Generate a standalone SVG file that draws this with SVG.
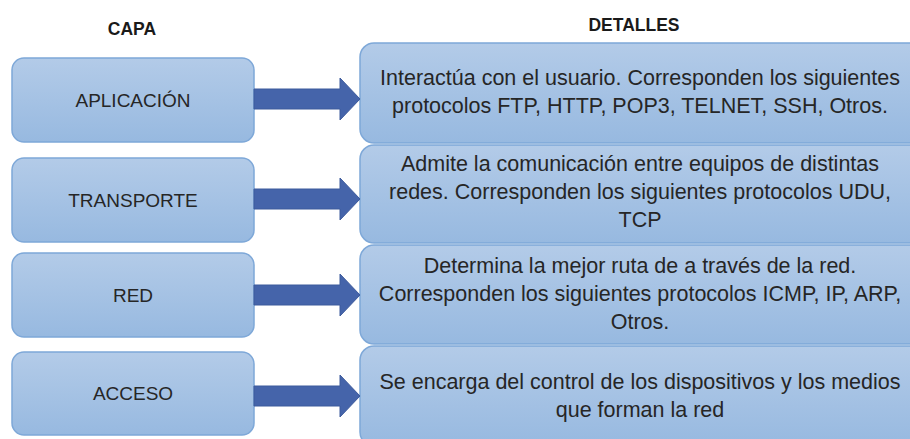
<svg xmlns="http://www.w3.org/2000/svg" width="910" height="439" viewBox="0 0 910 439">
<defs>
<linearGradient id="g" x1="0" y1="0" x2="0" y2="1">
<stop offset="0" stop-color="#b3cbe8"/>
<stop offset="1" stop-color="#97b9e0"/>
</linearGradient>
<style>
.box{fill:url(#g);stroke:#7ea8d8;stroke-width:1.5}
.t{font-family:"Liberation Sans",Arial,sans-serif;font-size:21.5px;fill:#262626;text-anchor:middle}
.l{font-family:"Liberation Sans",Arial,sans-serif;font-size:19px;fill:#262626;text-anchor:middle}
.h{font-family:"Liberation Sans",Arial,sans-serif;font-size:17.5px;font-weight:bold;fill:#1a1a1a;text-anchor:middle}
.arr{fill:#4564aa;stroke:#3d5a9c;stroke-width:1}
</style>
</defs>
<rect width="910" height="439" fill="#ffffff"/>
<text class="h" x="132" y="35">CAPA</text>
<text class="h" x="634" y="31">DETALLES</text>

<g id="aplicacion">
<rect class="box" x="12" y="58" width="242" height="84" rx="12"/>
<text class="l" x="133" y="107">APLICACIÓN</text>
</g>
<g id="transporte">
<rect class="box" x="12" y="158" width="242" height="84" rx="12"/>
<text class="l" x="133" y="207">TRANSPORTE</text>
</g>
<g id="red">
<rect class="box" x="12" y="253" width="242" height="84" rx="12"/>
<text class="l" x="133" y="302">RED</text>
</g>
<g id="acceso">
<rect class="box" x="12" y="352" width="242" height="83" rx="12"/>
<text class="l" x="133" y="400">ACCESO</text>
</g>

<g id="det-aplicacion">
<rect class="box" x="360" y="43" width="570" height="100" rx="14"/>
<text class="t" x="640" y="85">Interactúa con el usuario. Corresponden los siguientes</text>
<text class="t" x="640" y="113">protocolos FTP, HTTP, POP3, TELNET, SSH, Otros.</text>
</g>
<g id="det-transporte">
<rect class="box" x="360" y="145" width="570" height="98" rx="14"/>
<text class="t" x="640" y="171">Admite la comunicación entre equipos de distintas</text>
<text class="t" x="640" y="199">redes. Corresponden los siguientes protocolos UDU,</text>
<text class="t" x="640" y="227">TCP</text>
</g>
<g id="det-red">
<rect class="box" x="360" y="245" width="570" height="99" rx="14"/>
<text class="t" x="640" y="273">Determina la mejor ruta de a través de la red.</text>
<text class="t" x="640" y="301">Corresponden los siguientes protocolos ICMP, IP, ARP,</text>
<text class="t" x="640" y="329">Otros.</text>
</g>
<g id="det-acceso">
<rect class="box" x="360" y="346" width="570" height="100" rx="14"/>
<text class="t" x="640" y="389">Se encarga del control de los dispositivos y los medios</text>
<text class="t" x="640" y="417">que forman la red</text>
</g>

<g id="connectors">
<polygon class="arr" points="254,89 340,89 340,78 360,99 340,120 340,109 254,109"/>
<polygon class="arr" points="254,189 340,189 340,178 360,199 340,220 340,209 254,209"/>
<polygon class="arr" points="254,285 340,285 340,274 360,295 340,316 340,305 254,305"/>
<polygon class="arr" points="254,386 340,386 340,375 360,396 340,417 340,406 254,406"/>
</g>
</svg>
